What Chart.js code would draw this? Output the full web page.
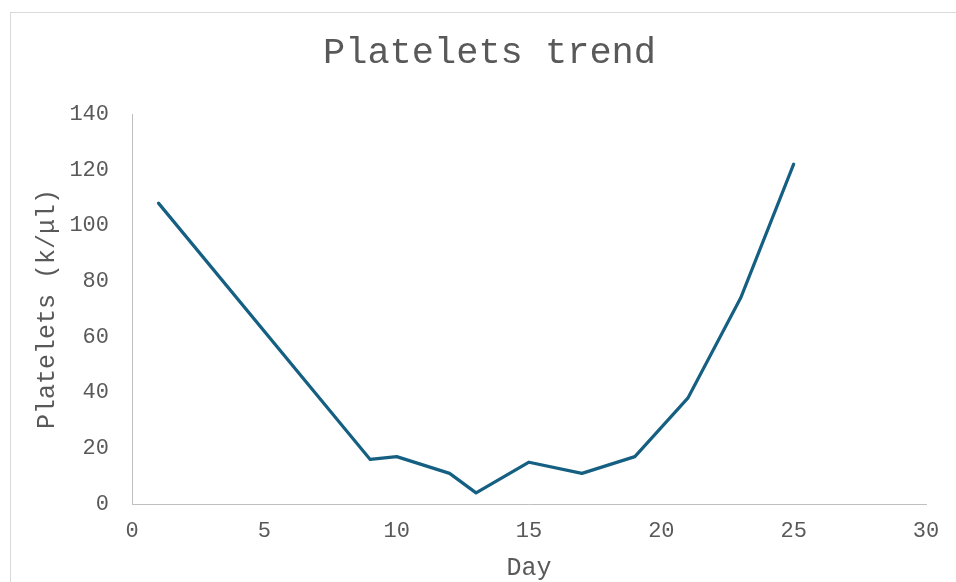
<!DOCTYPE html>
<html>
<head>
<meta charset="utf-8">
<title>Platelets trend</title>
<script src="https://cdn.jsdelivr.net/npm/chart.js@4/dist/chart.umd.min.js"></script>
<style>
  html, body { margin: 0; padding: 0; background: #ffffff; }
  #wrap { position: relative; width: 956px; height: 582px; overflow: hidden; }
  canvas { display: block; }
</style>
</head>
<body>
<div id="wrap"><canvas id="chart" width="956" height="582"></canvas></div>
<script>
// Platelet counts by day of admission
const days = [1, 9, 10, 12, 13, 15, 17, 19, 21, 23, 25];
const platelets = [108, 16, 17, 11, 4, 15, 11, 17, 38, 74, 122];

const chartTitle = 'Platelets trend';
const xTitle = 'Day';
const yTitle = 'Platelets (k/\u03bcl)';

const FONT = "'Liberation Mono', 'Courier New', monospace";
const TEXT = '#595959';
const AXIS = '#bfbfbf';

// thin grey frame around the whole chart
const frame = {
  id: 'frame',
  beforeDraw(chart) {
    const ctx = chart.ctx;
    ctx.save();
    ctx.strokeStyle = '#d9d9d9';
    ctx.lineWidth = 1;
    ctx.strokeRect(10.5, 12.5, 980, 620);
    ctx.restore();
  }
};

new Chart(document.getElementById('chart'), {
  type: 'line',
  data: {
    datasets: [{
      data: days.map((d, i) => ({ x: d, y: platelets[i] })),
      borderColor: '#156082',
      borderWidth: 3.2,
      pointRadius: 0,
      tension: 0,
      fill: false,
      borderCapStyle: 'round',
      borderJoinStyle: 'round'
    }]
  },
  options: {
    responsive: false,
    animation: false,
    devicePixelRatio: 1,
    // left padding keeps the chart title centred on the frame
    layout: { padding: { left: 53, right: 30, top: 0, bottom: 0 } },
    plugins: {
      legend: { display: false },
      tooltip: { enabled: false },
      title: {
        display: true,
        text: chartTitle,
        color: TEXT,
        font: { family: FONT, size: 37, weight: 'normal', lineHeight: 1.2 },
        padding: { top: 31, bottom: 38.6 }
      }
    },
    scales: {
      x: {
        type: 'linear',
        min: 0,
        max: 30,
        grid: { display: false, drawTicks: false },
        border: { display: true, color: AXIS, width: 1 },
        ticks: {
          stepSize: 5,
          color: TEXT,
          padding: 14,
          font: { family: FONT, size: 22, lineHeight: 1.2 }
        },
        title: {
          display: true,
          text: xTitle,
          color: TEXT,
          font: { family: FONT, size: 25, lineHeight: 1 },
          padding: { top: 0, bottom: 1.5 }
        },
        afterFit(scale) { scale.height = 78; }
      },
      y: {
        type: 'linear',
        min: 0,
        max: 140,
        grid: { display: false, drawTicks: false },
        border: { display: true, color: AXIS, width: 1 },
        ticks: {
          stepSize: 20,
          color: TEXT,
          padding: 23,
          font: { family: FONT, size: 22, lineHeight: 1.2 }
        },
        title: {
          display: true,
          text: yTitle,
          color: TEXT,
          font: { family: FONT, size: 25, lineHeight: 1 },
          padding: { top: -18.5, bottom: 0 }
        },
        afterFit(scale) { scale.width = 79; }
      }
    }
  },
  plugins: [frame]
});
</script>
</body>
</html>
